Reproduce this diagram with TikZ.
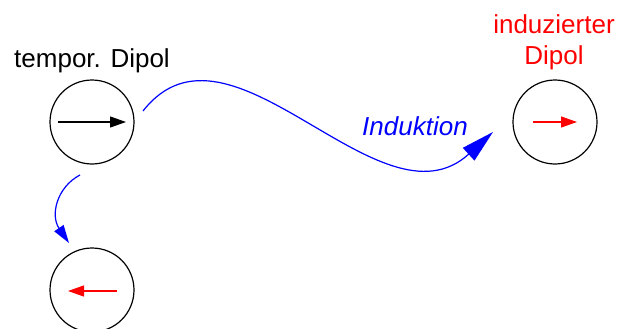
\documentclass[tikz,border=0pt]{standalone}
\usepackage{fontspec}
\setmainfont{Liberation Sans}
\usetikzlibrary{arrows.meta}
\begin{document}
\begin{tikzpicture}[x=1pt,y=-1pt,
  dipole/.style={circle,draw=black,line width=1.2pt,minimum size=84pt,inner sep=0pt},
  moment/.style={line width=1.2pt,-{Triangle[length=16pt,width=11pt]}},
  effect/.style={blue,line width=1.2pt},
  lbl/.style={font=\fontsize{26}{32}\selectfont,inner sep=0pt}]
\useasboundingbox (0,0) rectangle (618,329);
% dipoles
\node[dipole] (d1) at (92,122) {};
\node[dipole] (d2) at (555,122) {};
\node[dipole] (d3) at (92,290) {};
% dipole moments
\coordinate (m1a) at (58,122);  \coordinate (m1b) at (126,122);
\coordinate (m2a) at (533,122); \coordinate (m2b) at (577,122);
\coordinate (m3a) at (117,291); \coordinate (m3b) at (68,291);
\draw[moment,black] (m1a) -- (m1b);
\draw[moment,red] (m2a) -- (m2b);
\draw[moment,red] (m3a) -- (m3b);
% labels
\node[lbl,anchor=base] (t1) at (92,67) {tempor. Dipol};
\node[lbl,anchor=base,red,align=center] (t2) at (554,65) {induzierter\\Dipol};
\node[lbl,anchor=base west,blue,font=\fontsize{26}{32}\selectfont\itshape] (ind) at (362,135) {Induktion};
% induction arrows
\coordinate (s1) at (143,111);
\coordinate (e1) at (493,132);
\draw[effect,-{Triangle[length=33pt,width=17pt]}] (s1) .. controls (230,0) and (380,235) .. (e1);
\coordinate (s2) at (80,175);
\coordinate (e2) at (69,243);
\draw[effect,-{Triangle[length=18pt,width=11pt]}] (s2) .. controls (57,187) and (50,215) .. (e2);
\end{tikzpicture}
\end{document}
